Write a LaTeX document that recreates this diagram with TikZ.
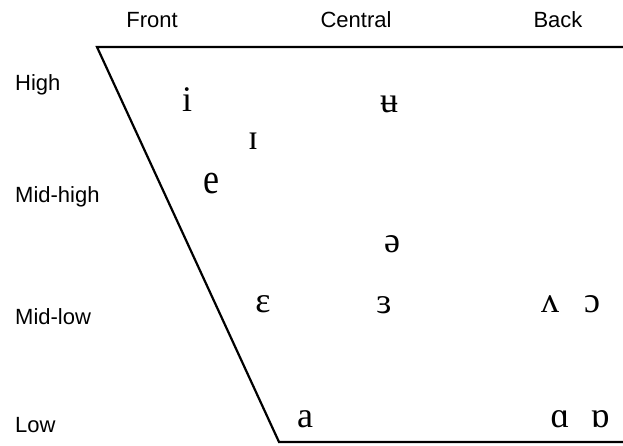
\documentclass[tikz,border=0pt]{standalone}
\usepackage{fontspec}
\setmainfont{Liberation Serif}
\newfontfamily\labfont{Liberation Sans}
\begin{document}
\begin{tikzpicture}[x=1pt,y=-1pt,
  lab/.style={font=\labfont\fontsize{22}{26}\selectfont,inner sep=0pt,anchor=base},
  llab/.style={font=\labfont\fontsize{22}{26}\selectfont,inner sep=0pt,anchor=base west},
  vow/.style={font=\fontsize{36}{40}\selectfont,inner sep=0pt,anchor=base},
  chart/.style={line width=2.2pt,line join=miter}]
\useasboundingbox (0,0) rectangle (623,445);
% frame
\coordinate (tl) at (97,47);
\coordinate (tr) at (625,47);
\coordinate (bl) at (279,442);
\coordinate (br) at (625,442);
\draw[chart] (tr) -- (tl) -- (bl) -- (br);
% column labels
\node[lab] (front) at (152,27) {Front};
\node[lab] (central) at (356,27) {Central};
\node[lab] (back) at (558,27) {Back};
% row labels
\node[llab] (high) at (15,90) {High};
\node[llab] (midhigh) at (15,202) {Mid-high};
\node[llab] (midlow) at (15,324) {Mid-low};
\node[llab] (low) at (15,432) {Low};
% vowels
\node[vow] (i) at (187,111) {i};
\node[vow] (ubar) at (389,112) {ʉ};
\node[vow] (smallI) at (253,149) {ɪ};
\node[vow,yscale=1.2] (e) at (211,193) {e};
\node[vow] (schwa) at (392,252) {ə};
\node[vow] (eps) at (263,312) {ɛ};
\node[vow] (rev) at (384,313) {ɜ};
\node[vow] (wedge) at (550,312) {ʌ};
\node[vow] (openo) at (592,312) {ɔ};
\node[vow] (a) at (305,427) {a};
\node[vow] (alpha) at (560,427) {ɑ};
\node[vow] (turnalpha) at (600,427) {ɒ};
\end{tikzpicture}
\end{document}
